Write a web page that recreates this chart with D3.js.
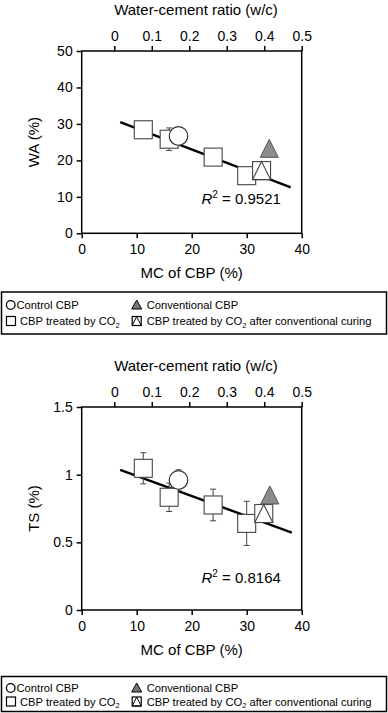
<!DOCTYPE html>
<html><head><meta charset="utf-8">
<script src="https://cdn.jsdelivr.net/npm/d3@7"></script>
<style>
html,body{margin:0;padding:0;background:#fff;}
svg{display:block;font-family:"Liberation Sans",Arial,Helvetica,sans-serif;}
</style></head>
<body><svg id="chart" width="388" height="713"></svg>
<script>
// ---- data ----
const mcTicks = [0, 10, 20, 30, 40];
const wcTicks = [0, 0.1, 0.2, 0.3, 0.4, 0.5];
const waTicks = [0, 10, 20, 30, 40, 50];
const tsTicks = [0, 0.5, 1, 1.5];
const tsTickLabels = ["0", "0.5", "1", "1.5"];

// WA panel
const waCo2MC = [11.2, 15.9, 23.9, 30.0];
const waCo2 = [28.4, 25.8, 20.9, 15.8];
const waCo2Err = [1.0, 3.1, 1.0, 1.0];
const waControlMC = [17.6];
const waControl = [26.7];
const waControlErr = [0.8];
const waConvMC = [34.1];
const waConv = [23.3];
const waCo2ConvMC = [32.7];
const waCo2Conv = [17.2];
const waFitMC = [7.0, 38.0];
const waFit = [30.5, 12.6];
const waR2 = "0.9521";

// TS panel
const tsCo2MC = [11.2, 15.9, 23.9, 30.0];
const tsCo2 = [1.047, 0.833, 0.776, 0.640];
const tsCo2Err = [0.115, 0.105, 0.117, 0.163];
const tsControlMC = [17.6];
const tsControl = [0.961];
const tsControlErr = [0.075];
const tsConvMC = [34.2];
const tsConv = [0.850];
const tsCo2ConvMC = [33.1];
const tsCo2Conv = [0.713];
const tsFitMC = [7.0, 38.2];
const tsFit = [1.035, 0.572];
const tsR2 = "0.8164";

const legendItems = ["Control CBP", "Conventional CBP", "CBP treated by CO", "CBP treated by CO"];

// ---- drawing ----
const svg = d3.select("#chart");
const FONT = 14;

function panel(o) {
  const g = svg.append("g");
  const x = d3.scaleLinear().domain([0, 40]).range([81.7, 301.7]);
  const xw = d3.scaleLinear().domain([0, 0.5]).range([114.3, 301.7]);
  const y = d3.scaleLinear().domain(o.yDomain).range([o.yBottom, o.yTop]);

  // frame
  g.append("rect").attr("x", x(0)).attr("y", o.yTop).attr("width", x(40) - x(0)).attr("height", o.yBottom - o.yTop)
    .attr("fill", "none").attr("stroke", "#000").attr("stroke-width", 1.5);

  // axes
  const ax = g.append("g").attr("transform", `translate(0,${o.yBottom})`)
    .call(d3.axisBottom(x).tickValues(mcTicks).tickSize(5).tickPadding(6).tickFormat(d3.format("d")));
  const at = g.append("g").attr("transform", `translate(0,${o.yTop})`)
    .call(d3.axisTop(xw).tickValues(wcTicks).tickSize(5).tickPadding(5).tickFormat(d => d === 0 ? "0" : d3.format(".1f")(d)));
  const ay = g.append("g").attr("transform", `translate(${x(0)},0)`)
    .call(d3.axisLeft(y).tickValues(o.yTicks).tickSize(5).tickPadding(4).tickFormat((d, i) => o.yTickLabels[i]));
  [ax, at, ay].forEach(a => {
    a.select(".domain").remove();
    a.selectAll("line").attr("stroke", "#000").attr("stroke-width", 1.5);
    a.selectAll("text").attr("font-size", FONT).attr("fill", "#000").attr("font-family", "Liberation Sans, Arial, sans-serif");
  });

  // titles
  g.append("text").attr("x", 196).attr("y", o.yTop - 36).attr("text-anchor", "middle").attr("font-size", 15).text("Water-cement ratio (w/c)");
  g.append("text").attr("x", 191.7).attr("y", o.yBottom + 45).attr("text-anchor", "middle").attr("font-size", 15).text("MC of CBP (%)");
  g.append("text").attr("transform", `translate(39,${(o.yTop + o.yBottom) / 2}) rotate(-90)`).attr("text-anchor", "middle")
    .attr("font-size", 15).text(o.yLabel);

  // fit line
  const line = d3.line().x(d => x(d[0])).y(d => y(d[1]));
  g.append("path").datum(o.fitMC.map((m, i) => [m, o.fit[i]])).attr("d", line)
    .attr("fill", "none").attr("stroke", "#000").attr("stroke-width", 2.4);

  // error bars
  function errBars(mc, v, e) {
    mc.forEach((m, i) => {
      const cx = x(m), y1 = y(v[i] + e[i]), y2 = y(v[i] - e[i]);
      g.append("line").attr("x1", cx).attr("x2", cx).attr("y1", y1).attr("y2", y2).attr("stroke", "#444").attr("stroke-width", 1);
      [y1, y2].forEach(yy => g.append("line").attr("x1", cx - 3).attr("x2", cx + 3).attr("y1", yy).attr("y2", yy).attr("stroke", "#444").attr("stroke-width", 1));
    });
  }
  errBars(o.co2MC, o.co2, o.co2Err);
  errBars(o.ctrlMC, o.ctrl, o.ctrlErr);

  const S = 18;
  // squares
  o.co2MC.forEach((m, i) => {
    g.append("rect").attr("x", x(m) - S / 2).attr("y", y(o.co2[i]) - S / 2).attr("width", S).attr("height", S)
      .attr("fill", "#fff").attr("stroke", "#444").attr("stroke-width", 1.1);
  });
  // circle
  o.ctrlMC.forEach((m, i) => {
    g.append("circle").attr("cx", x(m)).attr("cy", y(o.ctrl[i])).attr("r", 9.3)
      .attr("fill", "#fff").attr("stroke", "#333").attr("stroke-width", 1.2);
  });
  // square with triangle
  o.ccMC.forEach((m, i) => {
    const cx = x(m), cy = y(o.cc[i]);
    g.append("rect").attr("x", cx - S / 2).attr("y", cy - S / 2).attr("width", S).attr("height", S)
      .attr("fill", "#fff").attr("stroke", "#444").attr("stroke-width", 1.1);
    g.append("path").attr("d", `M${cx},${cy - S / 2}L${cx + S / 2},${cy + S / 2}L${cx - S / 2},${cy + S / 2}Z`)
      .attr("fill", "#fff").attr("stroke", "#444").attr("stroke-width", 1.1);
  });
  // gray triangle
  o.convMC.forEach((m, i) => {
    const cx = x(m), cy = y(o.conv[i]);
    g.append("path").attr("d", `M${cx},${cy - 9}L${cx + 9},${cy + 9}L${cx - 9},${cy + 9}Z`)
      .attr("fill", "#8c8c8c").attr("stroke", "#555").attr("stroke-width", 1);
  });

  // R2
  const t = g.append("text").attr("x", 201.5).attr("y", o.r2y).attr("font-size", 15);
  t.append("tspan").attr("font-style", "italic").text("R");
  t.append("tspan").attr("dy", -6).attr("font-size", 10).text("2");
  t.append("tspan").attr("dy", 6).text(" = " + o.r2);

  // legend
  const L = o.legend;
  g.append("rect").attr("x", 1.5).attr("y", L.top).attr("width", 385).attr("height", L.h)
    .attr("fill", "none").attr("stroke", "#000").attr("stroke-width", 1.5);
  const r1 = L.top + L.row1, r2 = L.top + L.row2;
  const fs = 11.2;
  const lg = g.append("g").attr("font-size", fs);
  // control
  lg.append("circle").attr("cx", 10.7).attr("cy", r1).attr("r", 4.3).attr("fill", "none").attr("stroke", "#000").attr("stroke-width", 1.3);
  lg.append("text").attr("x", 16.5).attr("y", r1 + 4).text(legendItems[0]);
  // conventional
  lg.append("path").attr("d", `M136.7,${r1 - 5}L141.7,${r1 + 4}L131.7,${r1 + 4}Z`).attr("fill", "#777").attr("stroke", "#000").attr("stroke-width", 1);
  lg.append("text").attr("x", 146.7).attr("y", r1 + 4).text(legendItems[1]);
  // co2
  lg.append("rect").attr("x", 6.5).attr("y", r2 - 4.5).attr("width", 9).attr("height", 9).attr("fill", "none").attr("stroke", "#000").attr("stroke-width", 1.2);
  const t3 = lg.append("text").attr("x", 20).attr("y", r2 + 4).text(legendItems[2]);
  t3.append("tspan").attr("dy", 2.5).attr("font-size", 7.5).text("2");
  // co2 after conventional
  lg.append("rect").attr("x", 132.2).attr("y", r2 - 4.5).attr("width", 9).attr("height", 9).attr("fill", "none").attr("stroke", "#000").attr("stroke-width", 1.2);
  lg.append("path").attr("d", `M136.7,${r2 - 4.5}L141.2,${r2 + 4.5}L132.2,${r2 + 4.5}Z`).attr("fill", "none").attr("stroke", "#000").attr("stroke-width", 1);
  const t4 = lg.append("text").attr("x", 146.7).attr("y", r2 + 4).text(legendItems[3]);
  t4.append("tspan").attr("dy", 2.5).attr("font-size", 7.5).text("2");
  t4.append("tspan").attr("dy", -2.5).text(" after conventional curing");
}

panel({
  yDomain: [0, 50], yTop: 51, yBottom: 233.3, yTicks: waTicks, yTickLabels: waTicks.map(String), yLabel: "WA (%)",
  co2MC: waCo2MC, co2: waCo2, co2Err: waCo2Err,
  ctrlMC: waControlMC, ctrl: waControl, ctrlErr: waControlErr,
  convMC: waConvMC, conv: waConv, ccMC: waCo2ConvMC, cc: waCo2Conv,
  fitMC: waFitMC, fit: waFit, r2: waR2, r2y: 204,
  legend: { top: 292, h: 42, row1: 13, row2: 29 }
});
panel({
  yDomain: [0, 1.5], yTop: 407, yBottom: 610, yTicks: tsTicks, yTickLabels: tsTickLabels, yLabel: "TS (%)",
  co2MC: tsCo2MC, co2: tsCo2, co2Err: tsCo2Err,
  ctrlMC: tsControlMC, ctrl: tsControl, ctrlErr: tsControlErr,
  convMC: tsConvMC, conv: tsConv, ccMC: tsCo2ConvMC, cc: tsCo2Conv,
  fitMC: tsFitMC, fit: tsFit, r2: tsR2, r2y: 583,
  legend: { top: 676.5, h: 35, row1: 11.5, row2: 25 }
});
</script></body></html>
